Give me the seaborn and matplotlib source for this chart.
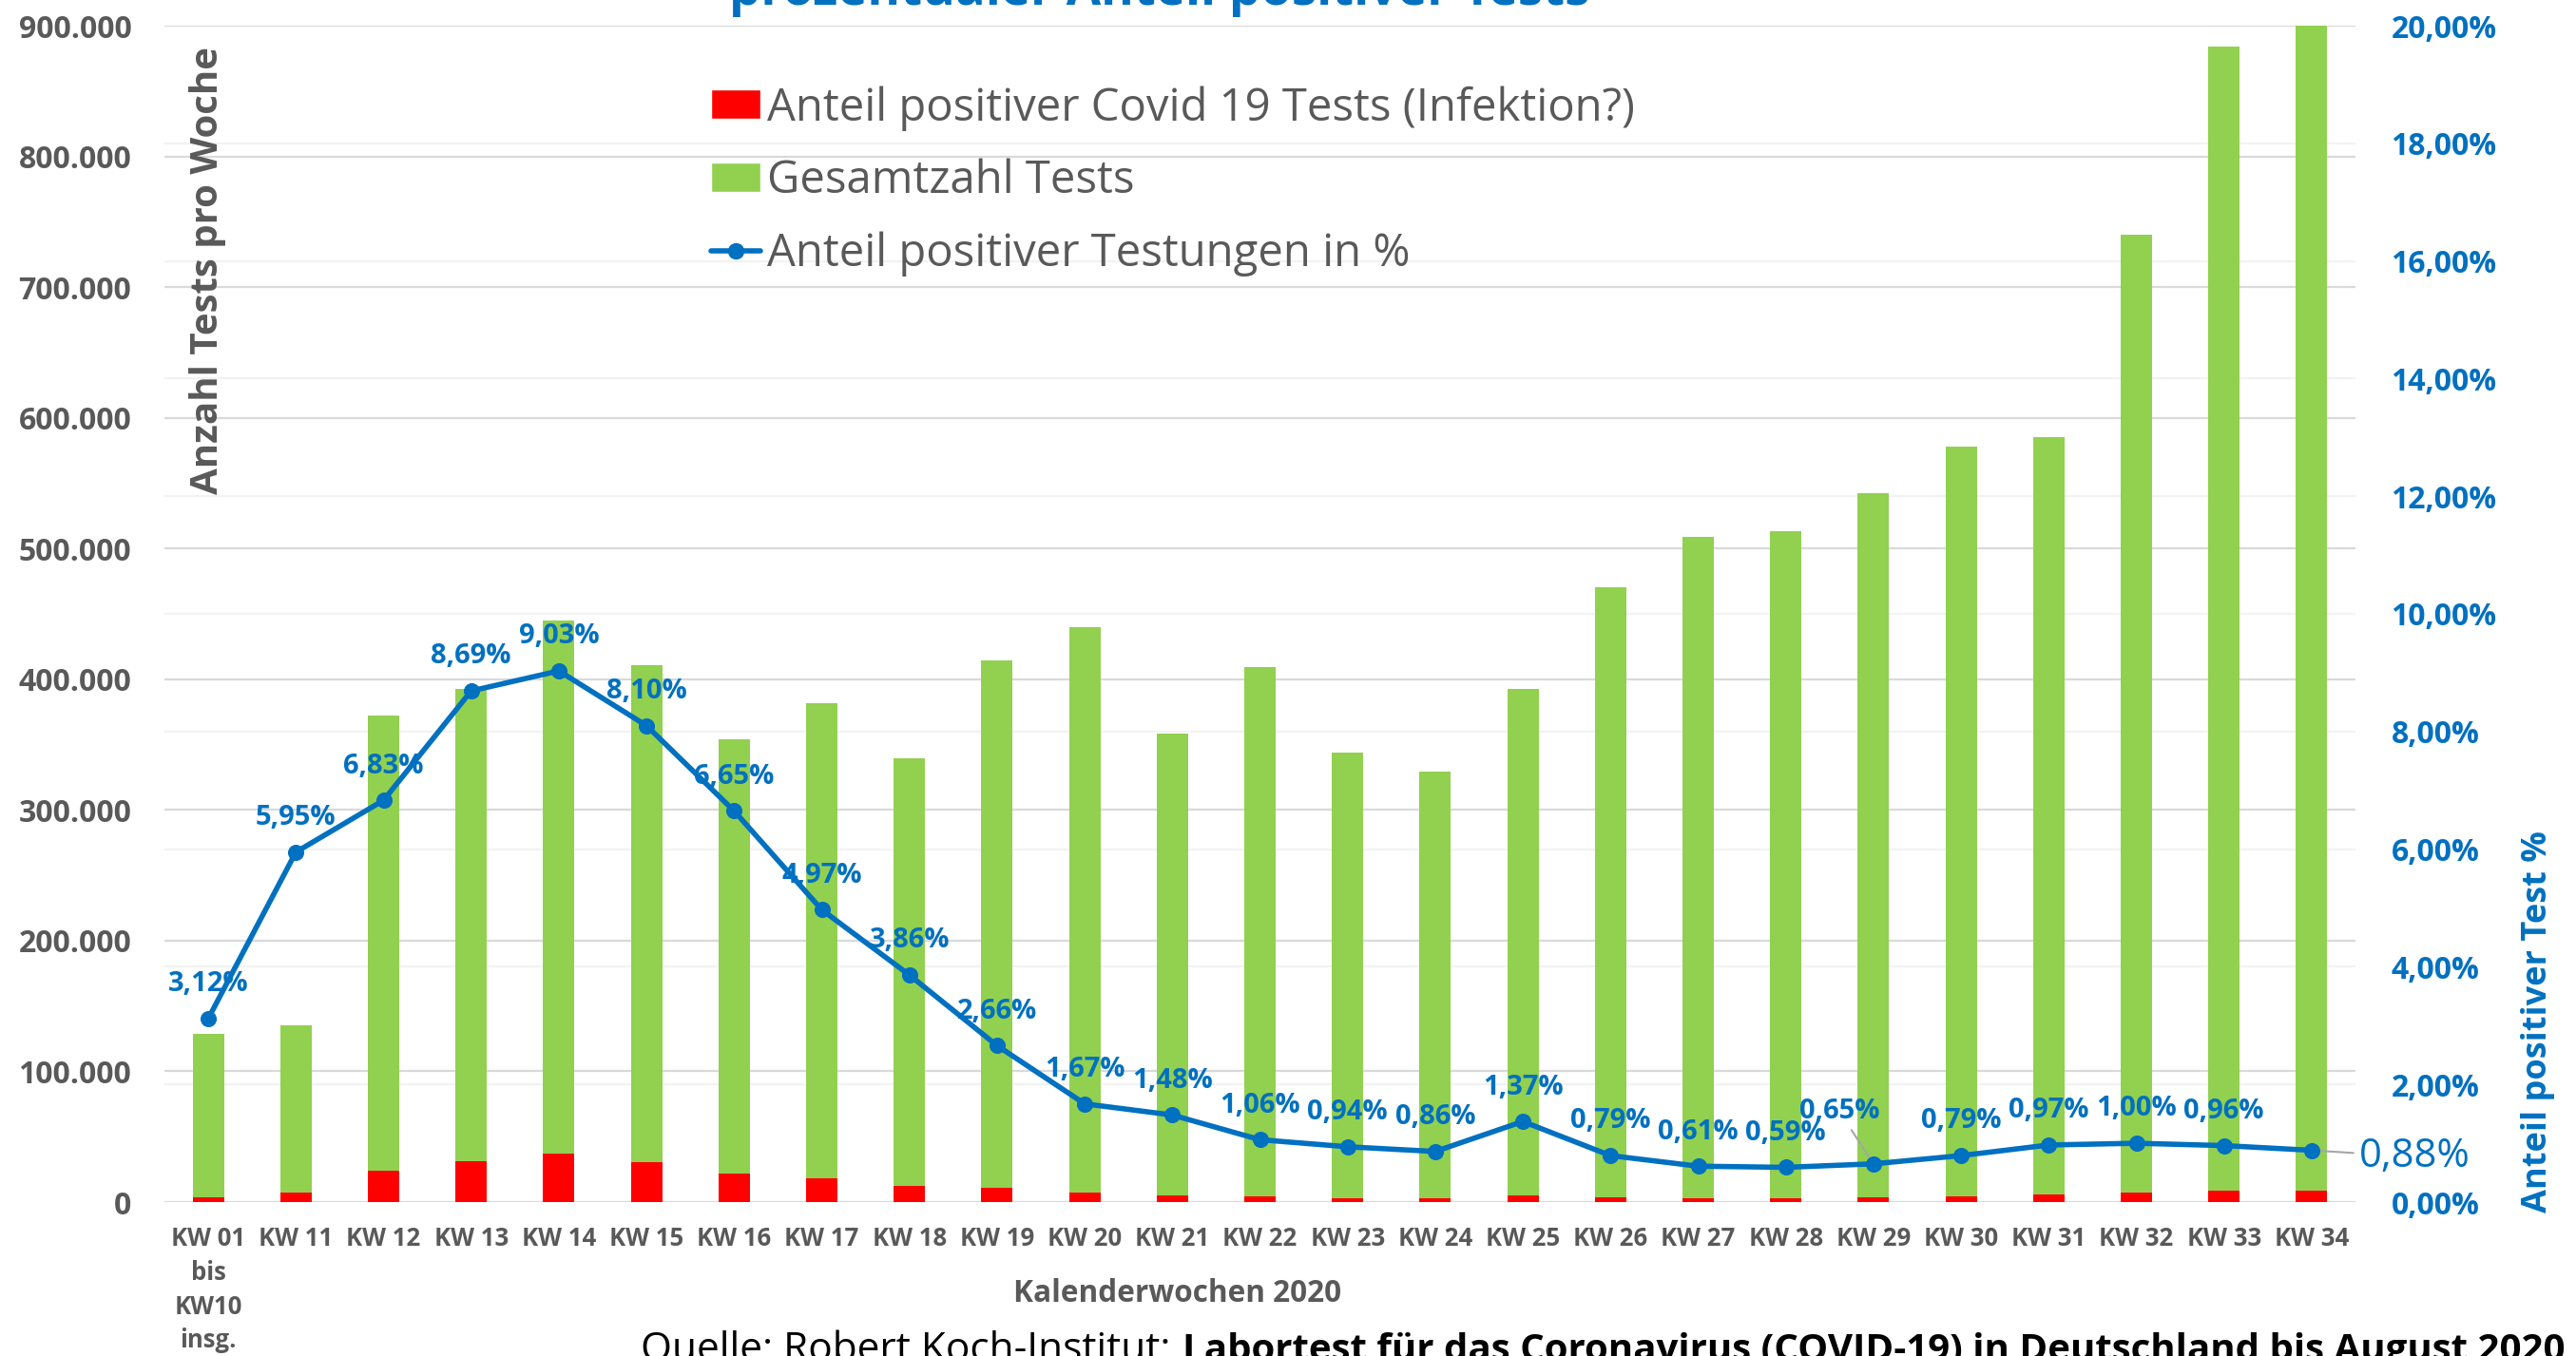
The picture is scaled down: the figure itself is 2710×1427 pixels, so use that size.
import numpy as np
import matplotlib
matplotlib.use("Agg")
import matplotlib.pyplot as plt
from matplotlib import font_manager
from matplotlib.patches import Patch
from matplotlib.lines import Line2D
from matplotlib.ticker import FuncFormatter, MultipleLocator
import seaborn as sns


# Kalenderwochen 2020 (KW 01 - KW 10 zusammengefasst)
weeks = ["KW 01\nbis\nKW10\ninsg.", "KW 11", "KW 12", "KW 13", "KW 14", "KW 15", "KW 16",
         "KW 17", "KW 18", "KW 19", "KW 20", "KW 21", "KW 22", "KW 23", "KW 24", "KW 25",
         "KW 26", "KW 27", "KW 28", "KW 29", "KW 30", "KW 31", "KW 32", "KW 33", "KW 34"]

# positive Tests pro Woche (rote Balken)
positive = [3900, 7600, 23800, 31400, 36900, 30800, 22100, 18100, 12600, 10800, 7200, 5200,
            4300, 3200, 2800, 5300, 3700, 3100, 3000, 3500, 4500, 5700, 7300, 8400, 8700]

# Gesamtzahl Tests pro Woche (gruene Balken, oben drauf gestapelt)
tests = [124700, 127500, 348600, 361500, 408300, 380200, 331900, 363900, 326800, 403900,
         432700, 353500, 405300, 341000, 326600, 387500, 467000, 505500, 510100, 538800,
         573800, 579400, 733000, 875500, 891300]

# Anteil positiver Tests in %
pct = [3.12, 5.95, 6.83, 8.69, 9.03, 8.10, 6.65, 4.97, 3.86, 2.66, 1.67, 1.48, 1.06, 0.94,
       0.86, 1.37, 0.79, 0.61, 0.59, 0.65, 0.79, 0.97, 1.00, 0.96, 0.88]

RED = "#FF0000"
GREEN = "#92D050"
BLUE = "#0070C0"
GRAY = "#595959"

sns.set_style("white")
names = {f.name for f in font_manager.fontManager.ttflist}
NARROW = "Liberation Sans Narrow" if "Liberation Sans Narrow" in names else "Open Sans"
plt.rcParams["font.family"] = [NARROW, "DejaVu Sans"]

W, H = 2710, 1427
fig = plt.figure(figsize=(W / 100, H / 100), dpi=100)
ax = fig.add_axes([173 / W, 1 - 1265 / H, 2305 / W, 1238 / H])

# gestapelte Balken: rot unten, gruen darauf
stacked = np.array(positive) + np.array(tests)
sns.barplot(x=weeks, y=stacked, color=GREEN, saturation=1, width=0.36, linewidth=0, ax=ax, zorder=2)
sns.barplot(x=weeks, y=positive, color=RED, saturation=1, width=0.36, linewidth=0, ax=ax, zorder=3)

ax.set_ylim(0, 900000)
ax.yaxis.set_major_locator(MultipleLocator(100000))
ax.yaxis.set_minor_locator(MultipleLocator(90000))  # Linien der rechten Achse (2%-Schritte)
ax.yaxis.set_major_formatter(FuncFormatter(lambda v, p: f"{int(v):,}".replace(",", ".")))
ax.grid(which="major", axis="y", color="#D9D9D9", lw=1.6)
ax.grid(which="minor", axis="y", color="#F2F2F2", lw=1.6)
ax.set_axisbelow(True)
ax.tick_params(axis="y", which="both", length=0, pad=25, labelsize=23, labelcolor=GRAY)
ax.tick_params(axis="x", length=0, pad=18, labelsize=18.5, labelcolor=GRAY)
ax.set_xlabel("")
ax.set_ylabel("")
plt.setp(ax.get_yticklabels(), fontweight="bold", family="Open Sans")
plt.setp(ax.get_xticklabels(), fontweight="bold", linespacing=1.42)

# Linie: Anteil positiver Tests (rechte Achse)
ax2 = ax.twinx()
sns.lineplot(x=np.arange(len(pct)), y=pct, color=BLUE, lw=4, marker="o", markersize=11.5,
             markeredgecolor=BLUE, ax=ax2, zorder=4)
ax2.set_ylim(0, 20)
ax.set_xlim(-0.5, len(weeks) - 0.5)
ax2.yaxis.set_major_locator(MultipleLocator(2))
ax2.yaxis.set_major_formatter(FuncFormatter(lambda v, p: f"{v:.2f}%".replace(".", ",")))
ax2.tick_params(axis="y", length=0, pad=27, labelsize=23, labelcolor=BLUE)
plt.setp(ax2.get_yticklabels(), fontweight="bold", family="Open Sans")
ax2.grid(False)
ax2.set_ylabel("")
for a in (ax, ax2):
    for s in a.spines.values():
        s.set_visible(False)

# Datenbeschriftungen
for i, v in enumerate(pct):
    txt = f"{v:.2f}".replace(".", ",") + "%"
    if i == len(pct) - 1:
        ax2.annotate(txt, (i, v), xytext=(36, -5), textcoords="offset points", ha="left",
                     va="center", color=BLUE, fontsize=30, family="Open Sans",
                     arrowprops=dict(arrowstyle="-", color="#A6A6A6", lw=1.5, shrinkA=2, shrinkB=4))
    elif i == 19:
        ax2.annotate(txt, (i, v), xytext=(-26, 40), textcoords="offset points", ha="center",
                     va="center", color=BLUE, fontsize=21, fontweight="bold",
                     arrowprops=dict(arrowstyle="-", color="#A6A6A6", lw=1.5, shrinkA=2, shrinkB=4))
    else:
        ax2.annotate(txt, (i, v), xytext=(0, 26), textcoords="offset points", ha="center",
                     va="center", color=BLUE, fontsize=21, fontweight="bold")

# Legende
handles = [Patch(facecolor=RED), Patch(facecolor=GREEN),
           Line2D([], [], color=BLUE, lw=4, marker="o", markersize=11.5)]
labels = ["Anteil positiver Covid 19 Tests (Infektion?)", "Gesamtzahl Tests",
          "Anteil positiver Testungen in %"]
leg = fig.legend(handles, labels, loc="upper left", bbox_to_anchor=(748 / W, 1 - 90 / H),
                 frameon=False, fontsize=34, handlelength=1.1, handleheight=0.63,
                 handletextpad=0.15, labelspacing=0.62, borderpad=0, borderaxespad=0)
for t in leg.get_texts():
    t.set_color(GRAY)

# Titel (oben abgeschnitten) und Achsentitel
fig.text(1220 / W, 1 - 5 / H, "prozentualer Anteil positiver Tests", ha="center", va="baseline",
         fontsize=38, fontweight="bold", color=BLUE)
fig.text(219 / W, 1 - 285 / H, "Anzahl Tests pro Woche", rotation=90, ha="center", va="center",
         fontsize=29, fontweight="bold", color=GRAY)
fig.text(2670 / W, 1 - 1075 / H, "Anteil positiver Test %", rotation=90, ha="center", va="center",
         fontsize=26, fontweight="bold", color=BLUE, family="Open Sans")
fig.text(1239 / W, 1 - 1362 / H, "Kalenderwochen 2020", ha="center", va="center",
         fontsize=22.7, fontweight="bold", color=GRAY)

# Quelle (unten abgeschnitten)
src = fig.text(674 / W, 1 - 1432 / H, "Quelle: Robert Koch-Institut:", ha="left", va="baseline",
               fontsize=30.5, color="black")
fig.canvas.draw()
bb = src.get_window_extent(fig.canvas.get_renderer())
fig.text((bb.x1 + 12) / W, 1 - 1432 / H,
         "Labortest für das Coronavirus (COVID-19) in Deutschland bis August 2020",
         ha="left", va="baseline", fontsize=29, fontweight="bold", color="black")

fig.savefig("out.png", dpi=100)
